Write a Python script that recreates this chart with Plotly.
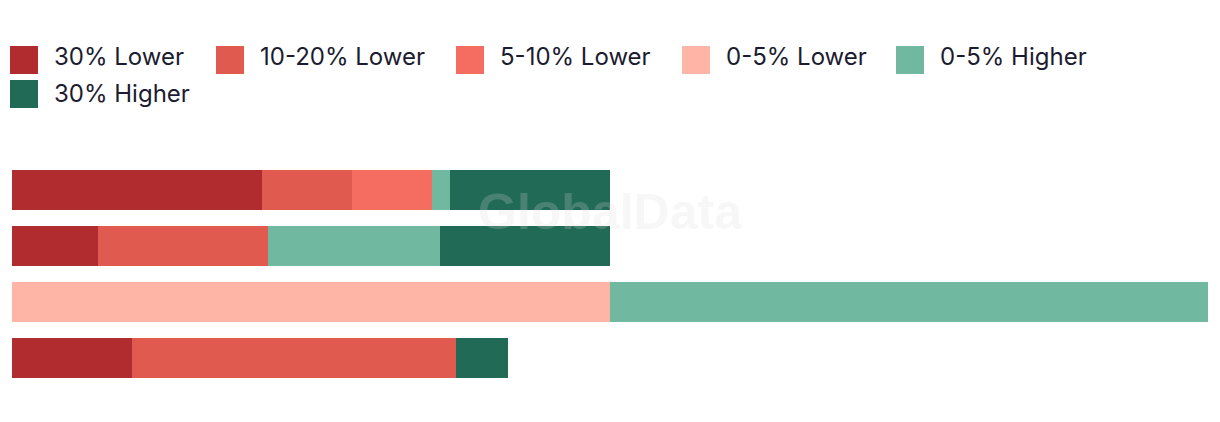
import plotly.graph_objects as go

# ---- data ----
categories = ["Row 1", "Row 2", "Row 3", "Row 4"]
series_names = ["30% Lower", "10-20% Lower", "5-10% Lower", "0-5% Lower", "0-5% Higher", "30% Higher"]
lower_30 = [41.8, 14.4, 0, 20.1]
lower_10_20 = [15.1, 28.4, 0, 54.2]
lower_5_10 = [13.4, 0, 0, 0]
lower_0_5 = [0, 0, 100, 0]
higher_0_5 = [3.0, 28.8, 100, 0]
higher_30 = [26.7, 28.4, 0, 8.7]
series_values = [lower_30, lower_10_20, lower_5_10, lower_0_5, higher_0_5, higher_30]
colors = ["#B02C2F", "#E05A4F", "#F46D60", "#FEB5A6", "#70B8A0", "#216A55"]

W, H = 1220, 422
ML, MR, MT, MB = 12, 12, 162, 36
PW, PH = W - ML - MR, H - MT - MB

fig = go.Figure()
for name, vals, col in zip(series_names, series_values, colors):
    fig.add_trace(go.Bar(
        y=categories, x=vals, name=name, orientation="h",
        marker=dict(color=col, line=dict(width=0)),
        showlegend=False,
    ))

def px_to_paper_x(px):
    return (px - ML) / PW

def px_to_paper_y(py):
    return (H - MB - py) / PH

# custom legend (large square swatches)
legend_rows = [[0, 1, 2, 3, 4], [5]]
swatch_left = [10, 216, 456, 682, 896]
row_top = [46, 80]
text_mid = [57.5, 94]
SW = 28
shapes = []
annotations = []
for r, items in enumerate(legend_rows):
    for j, idx in enumerate(items):
        x0 = swatch_left[j]
        y0 = row_top[r]
        shapes.append(dict(
            type="rect", xref="paper", yref="paper",
            x0=px_to_paper_x(x0), x1=px_to_paper_x(x0 + SW),
            y0=px_to_paper_y(y0 + SW), y1=px_to_paper_y(y0),
            fillcolor=colors[idx], line=dict(width=0), layer="above",
        ))
        annotations.append(dict(
            xref="paper", yref="paper",
            x=px_to_paper_x(x0 + 42), y=px_to_paper_y(text_mid[r] - 1),
            xanchor="left", yanchor="middle", showarrow=False,
            text=series_names[idx],
            font=dict(family="Inter", size=24, color="#1c1c30"),
        ))

# watermark
annotations.append(dict(
    xref="paper", yref="paper",
    x=px_to_paper_x(610), y=px_to_paper_y(212),
    xanchor="center", yanchor="middle", showarrow=False,
    text="<b>GlobalData</b>",
    font=dict(family="Liberation Sans", size=50, color="rgba(220,220,220,0.22)"),
))

fig.update_layout(
    width=W, height=H,
    margin=dict(l=ML, r=MR, t=MT, b=MB, pad=0),
    barmode="stack", bargap=16 / 56,
    plot_bgcolor="white", paper_bgcolor="white",
    xaxis=dict(range=[0, 200], visible=False, fixedrange=True),
    yaxis=dict(autorange="reversed", visible=False, fixedrange=True),
    shapes=shapes, annotations=annotations,
    showlegend=False,
)

fig.write_html("out.html")
